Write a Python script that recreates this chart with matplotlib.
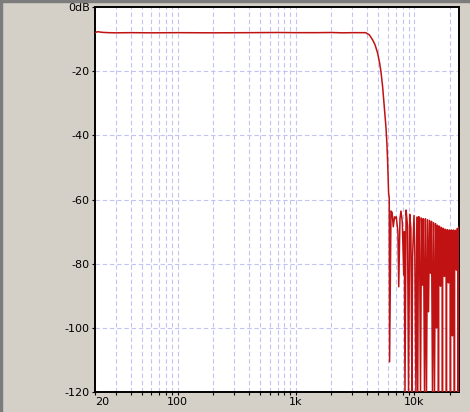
import matplotlib
matplotlib.use("Agg")
import matplotlib.pyplot as plt
from matplotlib.patches import Rectangle
from matplotlib.ticker import FixedLocator, NullFormatter

# ---- data ----
passband_f = [20, 21, 23, 26, 30, 40, 60, 100, 200, 400, 700, 1000, 1500,
              2000, 2500, 3000, 3500, 3900]
passband_db = [-8.0, -7.7, -7.9, -8.0, -8.05, -8.0, -8.05, -8.0, -8.05, -8.0,
               -7.95, -8.0, -8.0, -7.95, -8.05, -8.0, -8.0, -8.0]

rolloff_f = [4190, 4470, 4680, 4920, 5120, 5250, 5420, 5600, 5780, 5890,
             5970, 6090, 6170]
rolloff_db = [-8.7, -10.3, -11.8, -14.4, -17.6, -20.2, -24.8, -31.1, -37.3,
              -42.4, -47.7, -58.0, -59.5]

stop_f = [6210, 6380, 6520, 6670, 6840, 6950, 7070, 7300, 7420, 7600, 7750,
          7950, 8180, 8280, 8380, 8560, 8700, 8810, 8980, 9190, 9400, 9600,
          9710, 9990, 10150, 10370, 10560, 10740, 10900, 10990,
          11100, 11340, 11560, 11790, 12020, 12260, 12500, 12740, 13000,
          13250, 13510, 13770, 14040, 14320, 14600, 14890,
          15180, 15400, 15480, 15560, 15780, 16000, 16090, 16180, 16400,
          16650, 16730, 16810, 17060, 17300, 17390, 17480, 17730, 17990,
          18080, 18170, 18430, 18700, 18790, 18880, 19160, 19440, 19540,
          19640, 19930, 20220, 20320, 20420, 20720, 21020, 21120, 21220,
          21530, 21850, 21950, 22050, 22380, 22700, 22820, 22940, 23260,
          23500, 23600, 23700, 23850, 24000]
stop_db = [-110.6, -63.6, -64.0, -68.5, -65.4, -65.8, -65.4, -70.0, -87.2,
           -66.0, -63.6, -67.0, -83.5, -70.0, -120.0, -63.3, -66.0, -68.5,
           -120.0, -64.6, -69.0, -120.0, -78.0, -65.0, -76.0, -120.0, -65.5,
           -120.0, -65.4, -72.0,
           -65.5, -120.0, -65.8, -86.7, -66.0, -120.0, -66.0, -120.0, -66.3,
           -95.0, -66.5, -83.0, -66.8, -120.0, -67.2, -120.0,
           -67.5, -76.0, -100.0, -76.0, -68.0, -77.0, -120.0, -77.0, -68.3,
           -78.0, -87.0, -78.0, -68.7, -78.0, -120.0, -78.0, -69.0, -79.0,
           -84.0, -79.0, -69.3, -79.0, -120.0, -79.0, -69.4, -79.0, -86.0,
           -79.0, -69.5, -80.0, -120.0, -80.0, -69.5, -79.0, -102.5, -79.0,
           -69.5, -80.0, -120.0, -80.0, -69.6, -79.0, -82.0, -79.0, -69.0,
           -80.0, -120.0, -79.0, -68.6, -68.6]

x_major = [20, 100, 1000, 10000]
x_major_labels = ["20", "100", "1k", "10k"]
x_minor = [30, 40, 50, 60, 70, 80, 90, 200, 300, 400, 500, 600, 700, 800, 900,
           2000, 3000, 4000, 5000, 6000, 7000, 8000, 9000, 20000]
y_ticks = [0, -20, -40, -60, -80, -100, -120]
y_labels = ["0dB", "-20", "-40", "-60", "-80", "-100", "-120"]

freq = passband_f + rolloff_f + stop_f
db = passband_db + rolloff_db + stop_db

# ---- figure ----
W, H = 470, 412
fig = plt.figure(figsize=(W / 100, H / 100), dpi=100, facecolor="#d4d0c8")
ax = fig.add_axes([95 / W, 1 - 392 / H, (459 - 95) / W, (392 - 7) / H])
ax.set_facecolor("white")

ax.plot(freq, db, color="#c01212", lw=1.1, zorder=3)

ax.set_xscale("log")
ax.set_xlim(20, 24000)
ax.set_ylim(-120, 0)

ax.xaxis.set_major_locator(FixedLocator(x_major))
ax.xaxis.set_minor_locator(FixedLocator(x_minor))
ax.xaxis.set_minor_formatter(NullFormatter())
ax.set_xticklabels(x_major_labels)
ax.set_yticks(y_ticks)
ax.set_yticklabels(y_labels)

grid_kw = dict(color="#c4c4f4", lw=0.8, linestyle=(0, (4, 2.5)))
ax.grid(True, which="both", axis="x", **grid_kw)
ax.grid(True, which="major", axis="y", **grid_kw)
ax.set_axisbelow(True)

for s in ax.spines.values():
    s.set_linewidth(1.4)
    s.set_color("black")

ax.tick_params(axis="both", which="both", direction="out", length=2.2,
               width=0.8, color="black", labelsize=8, pad=1.5,
               labelcolor="black")
ax.tick_params(axis="x", which="both", top=False)
ax.tick_params(axis="y", which="both", right=False)

xl = ax.get_xticklabels()
xl[0].set_horizontalalignment("left")
xl[0].set_x(20)
for t in ax.get_xticklabels() + ax.get_yticklabels():
    t.set_fontfamily("DejaVu Sans")

# window border
fig.patches.append(Rectangle((0, 0), 2 / W, 1, transform=fig.transFigure,
                             color="#7c7c7c", zorder=10))
fig.patches.append(Rectangle((0, 1 - 2 / H), 1, 2 / H, transform=fig.transFigure,
                             color="#7c7c7c", zorder=10))

fig.savefig("out.png", dpi=100, facecolor=fig.get_facecolor())
